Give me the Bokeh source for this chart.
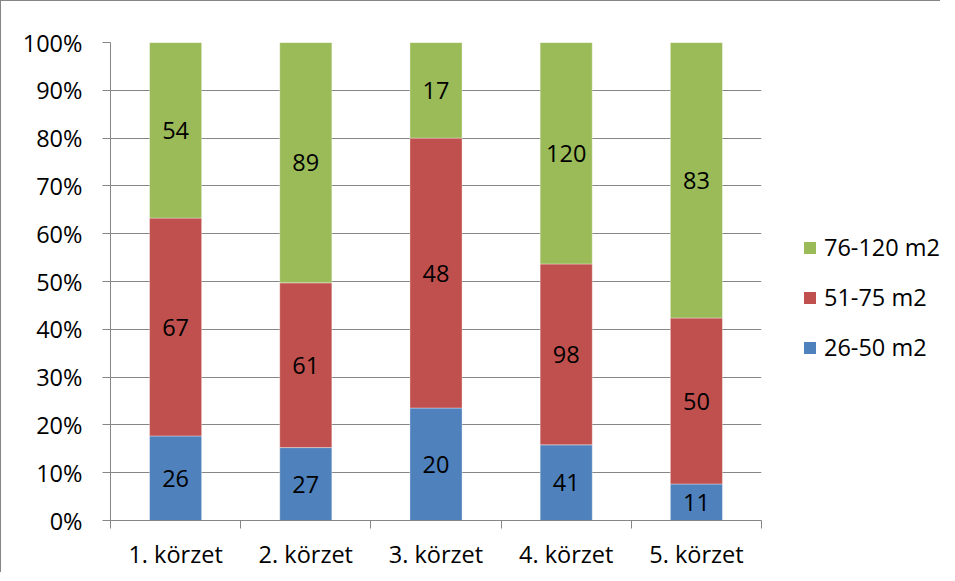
import numpy as np
from bokeh.plotting import figure
from bokeh.layouts import row
from bokeh.models import (ColumnDataSource, Range1d, FixedTicker, NumeralTickFormatter,
                          Legend, LegendItem)
from bokeh.core.properties import value
from bokeh.embed import file_html
from bokeh.resources import INLINE

categories = ["1. körzet", "2. körzet", "3. körzet", "4. körzet", "5. körzet"]
series_names = ["26-50 m2", "51-75 m2", "76-120 m2"]
small = [26, 27, 20, 41, 11]
medium = [67, 61, 48, 98, 50]
large = [54, 89, 17, 120, 83]
colors = ["#4F81BD", "#C0504D", "#9BBB59"]
y_ticks = [0, 0.1, 0.2, 0.3, 0.4, 0.5, 0.6, 0.7, 0.8, 0.9, 1.0]

FONT = "Open Sans"
FS = "23.5px"
GRAY = "#868686"
H = 571

vals = np.array([small, medium, large], dtype=float)
totals = vals.sum(axis=0)
fracs = vals / totals
tops = np.cumsum(fracs, axis=0)
bottoms = tops - fracs
xc = np.arange(len(categories)) + 0.5

p = figure(width=761, height=H, output_backend="svg", toolbar_location=None,
           x_range=Range1d(0, len(categories)), y_range=Range1d(0, 1),
           min_border_left=109, min_border_top=41, min_border_bottom=52,
           min_border_right=1)
p.outline_line_color = None
p.background_fill_color = "white"
p.border_fill_color = "white"

for i, name in enumerate(series_names):
    src = ColumnDataSource(dict(x=xc, bottom=bottoms[i], top=tops[i],
                                mid=(bottoms[i] + tops[i]) / 2,
                                lab=[str(int(v)) for v in vals[i]]))
    p.vbar(x="x", bottom="bottom", top="top", width=0.4, source=src,
           fill_color=colors[i], line_color="white", line_alpha=0.35, line_width=1)
    p.text(x="x", y="mid", text="lab", source=src, text_align="center",
           text_baseline="middle", text_font=value(FONT), text_font_size=FS,
           text_color="black")

# axes
p.xgrid.visible = False
p.ygrid.ticker = FixedTicker(ticks=y_ticks)
p.ygrid.grid_line_color = GRAY
p.ygrid.grid_line_width = 1

p.yaxis.ticker = FixedTicker(ticks=y_ticks)
p.yaxis.formatter = NumeralTickFormatter(format="0%")
p.yaxis.axis_line_color = GRAY
p.yaxis.major_tick_line_color = GRAY
p.yaxis.major_tick_out = 8
p.yaxis.major_tick_in = 0
p.yaxis.minor_tick_line_color = None
p.yaxis.major_label_standoff = 20
p.yaxis.major_label_text_font = FONT
p.yaxis.major_label_text_font_size = FS
p.yaxis.major_label_text_color = "black"

p.xaxis.ticker = FixedTicker(ticks=list(xc), minor_ticks=list(range(len(categories) + 1)))
p.xaxis.major_label_overrides = {float(x): c for x, c in zip(xc, categories)}
p.xaxis.axis_line_color = GRAY
p.xaxis.major_tick_line_color = None
p.xaxis.major_tick_out = 0
p.xaxis.major_tick_in = 0
p.xaxis.minor_tick_line_color = GRAY
p.xaxis.minor_tick_out = 8
p.xaxis.minor_tick_in = 0
p.xaxis.major_label_standoff = 9
p.xaxis.major_label_text_font = FONT
p.xaxis.major_label_text_font_size = FS
p.xaxis.major_label_text_color = "black"

# legend panel (separate figure to the right of the plot)
lf = figure(width=178, height=H, output_backend="svg", toolbar_location=None,
            x_range=Range1d(0, 1), y_range=Range1d(0, 1),
            x_axis_location=None, y_axis_location=None,
            min_border_left=0, min_border_right=0, min_border_top=0, min_border_bottom=0)
lf.grid.visible = False
lf.outline_line_color = None
lf.border_fill_color = "white"
lf.background_fill_color = "white"
items = []
for i in [2, 1, 0]:
    r = lf.quad(left=[-10], right=[-9], bottom=[-10], top=[-9],
                fill_color=colors[i], line_color=None)
    items.append(LegendItem(label=series_names[i], renderers=[r]))
legend = Legend(items=items, location=(40, 157), glyph_width=15, glyph_height=15,
                label_standoff=7, spacing=18, padding=0, margin=0,
                border_line_color=None, background_fill_alpha=0,
                label_text_font=FONT, label_text_font_size=FS,
                label_text_color="black")
lf.add_layout(legend, "center")

layout = row(p, lf, spacing=0)
layout.styles = {"border-top": "1px solid #868686", "border-left": "1px solid #868686"}

open("out.html", "w").write(file_html(layout, INLINE))
